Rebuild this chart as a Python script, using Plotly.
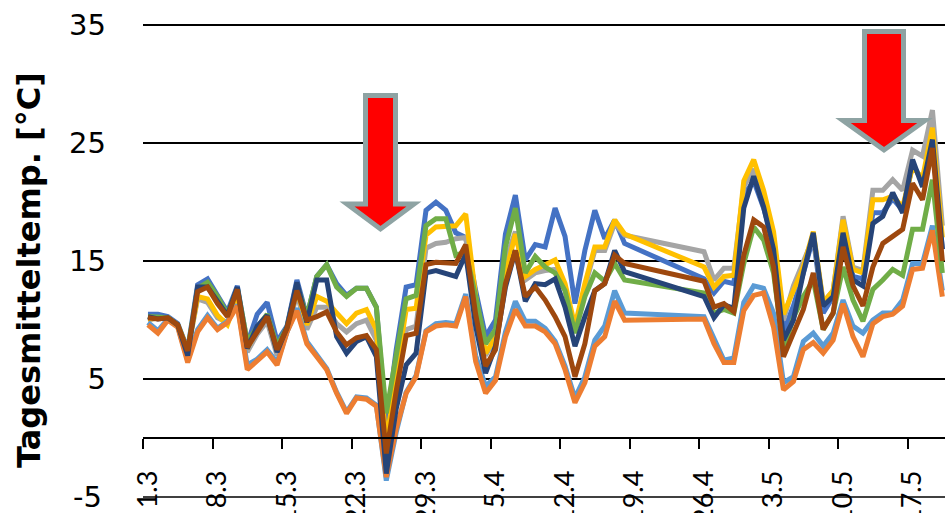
import plotly.graph_objects as go

# Day index 0 = 1.3 (1 March) ... 80 = 20.5
days = list(range(81))
tick_labels = ["1.3", "8.3", "15.3", "22.3", "29.3", "5.4", "12.4", "19.4", "26.4", "3.5", "10.5", "17.5"]
tick_days = [0, 7, 14, 21, 28, 35, 42, 49, 56, 63, 70, 77]
y_ticks = [-5, 5, 15, 25, 35]

G = [None] * 7  # missing days 49..55

blue = [10.5, 10.5, 10.3, 9.7, 7.5, 13.0, 13.5, 12.0, 10.7, 12.9, 8.0, 10.5, 11.5, 8.2, 9.5, 13.4,
        10.3, 13.7, 14.7, 13.1, 12.1, 12.7, 12.7, 11.1, 1.0, 7.5, 12.8, 13.0, 19.3, 20.0, 19.3, 17.4,
        17.0, 12.5, 8.6, 10.0, 17.3, 20.6, 15.1, 16.4, 16.2, 19.5, 17.1, 11.4, 15.9, 19.3, 16.9, 18.5,
        16.5] + G + [13.5, 12.3, 13.3, 13.1, 20.6, 21.8, 19.5, 16.5, 9.0, 11.2, 14.0, 17.0, 10.6, 12.0,
        17.8, 13.7, 13.5, 19.1, 19.1, 20.3, 19.3, 23.2, 21.8, 25.0, 16.0]
orange = [9.6, 8.9, 10.0, 9.4, 6.4, 9.0, 10.2, 9.2, 9.8, 11.2, 5.8, 6.5, 7.3, 6.2, 9.0, 10.8,
          8.0, 6.9, 5.8, 3.8, 2.1, 3.4, 3.3, 2.7, -3.3, 0.8, 3.8, 5.2, 9.0, 9.5, 9.6, 9.5,
          12.0, 6.5, 3.8, 4.9, 8.6, 10.9, 9.5, 9.5, 9.0, 8.0, 5.8, 3.0, 4.7, 7.8, 8.6, 11.6,
          10.0] + G + [10.1, 8.0, 6.4, 6.4, 10.8, 12.1, 12.3, 9.4, 4.1, 4.8, 7.5, 8.1, 7.2, 8.3,
          11.4, 8.6, 6.9, 9.7, 10.3, 10.5, 11.2, 14.3, 14.4, 17.6, 12.0]
gray = [10.0, 10.2, 10.2, 9.6, 7.4, 11.8, 11.5, 10.2, 9.8, 12.0, 7.3, 8.8, 9.9, 7.0, 9.0, 12.2,
        9.2, 11.1, 11.1, 9.7, 9.0, 9.7, 10.0, 8.3, -1.0, 4.5, 9.2, 9.5, 16.1, 16.5, 16.6, 16.9,
        17.0, 11.5, 7.0, 8.5, 15.0, 17.5, 13.4, 14.0, 14.2, 14.3, 12.6, 9.2, 12.8, 15.9, 15.9, 18.2,
        17.2] + G + [15.8, 13.4, 14.4, 14.4, 21.3, 22.8, 20.5, 17.0, 10.0, 12.9, 15.0, 17.0, 11.5, 12.5,
        18.8, 14.5, 14.2, 21.0, 21.0, 21.9, 21.0, 24.4, 23.9, 27.8, 18.0]
yellow = [10.1, 10.2, 10.2, 9.6, 7.4, 12.0, 11.8, 10.4, 9.6, 12.0, 7.6, 9.2, 10.4, 7.4, 9.2, 12.6,
          9.6, 12.0, 11.6, 10.6, 9.7, 10.6, 10.9, 9.2, -0.5, 5.5, 10.9, 11.0, 17.2, 17.9, 17.9, 18.0,
          19.0, 12.0, 7.2, 8.5, 13.9, 17.3, 13.7, 14.3, 14.7, 15.1, 13.1, 9.5, 13.1, 16.2, 16.2, 18.5,
          17.3] + G + [14.5, 12.8, 13.7, 13.8, 21.8, 23.6, 21.0, 17.5, 10.5, 12.5, 14.5, 17.5, 11.5, 12.5,
          18.5, 14.3, 14.0, 20.2, 20.2, 20.5, 19.6, 23.0, 22.0, 26.3, 17.0]
lightblue = [9.8, 9.1, 10.1, 9.5, 6.6, 9.2, 10.4, 9.3, 9.9, 11.3, 6.2, 6.7, 7.5, 6.4, 9.0, 11.0,
             8.2, 7.0, 5.9, 3.9, 2.2, 3.5, 3.4, 2.8, -3.6, 0.5, 3.9, 5.3, 9.1, 9.7, 9.8, 9.7,
             12.2, 7.0, 4.4, 5.2, 9.0, 11.6, 9.9, 9.9, 9.3, 8.2, 6.1, 3.4, 5.2, 8.3, 9.5, 12.5,
             10.6] + G + [10.3, 8.5, 6.6, 6.8, 11.5, 12.9, 12.7, 10.6, 4.7, 5.2, 8.2, 8.9, 7.8, 8.9,
             11.7, 9.5, 8.9, 10.0, 10.6, 10.6, 11.7, 14.8, 14.8, 18.0, 12.5]
green = [10.3, 10.2, 10.2, 9.6, 7.4, 12.7, 13.2, 12.0, 10.5, 12.7, 8.2, 9.4, 10.5, 7.8, 9.4, 13.0,
         10.3, 13.7, 14.7, 12.8, 12.0, 12.7, 12.7, 11.1, 2.1, 7.0, 11.8, 12.1, 18.0, 18.6, 18.6, 15.5,
         15.8, 12.0, 8.0, 9.2, 16.2, 19.5, 14.0, 15.4, 14.5, 14.0, 12.5, 8.9, 12.0, 14.0, 13.3, 14.8,
         13.4] + G + [12.3, 10.6, 10.9, 10.6, 14.8, 17.9, 16.8, 14.0, 7.5, 10.2, 12.0, 13.4, 9.2, 10.6,
         14.5, 11.7, 9.9, 12.6, 13.4, 14.3, 13.8, 17.7, 17.7, 21.9, 14.0]
darkblue = [10.3, 10.1, 10.2, 9.6, 7.0, 12.8, 12.8, 11.6, 10.4, 12.8, 7.6, 9.5, 10.4, 7.3, 9.4, 13.2,
            9.8, 13.4, 13.4, 8.6, 7.2, 8.2, 8.6, 6.9, -3.0, 2.5, 6.2, 7.2, 14.0, 14.2, 14.0, 13.7,
            15.6, 9.5, 5.5, 7.8, 12.8, 15.9, 11.6, 13.1, 13.0, 13.5, 11.1, 7.8, 10.3, 12.5, 13.1, 15.9,
            14.1] + G + [12.0, 10.2, 11.3, 11.0, 19.5, 22.2, 19.6, 16.0, 8.3, 10.0, 14.0, 17.4, 11.2, 12.0,
            17.4, 13.4, 12.9, 18.2, 18.8, 20.8, 19.1, 23.6, 21.3, 25.3, 16.0]
brown = [10.2, 10.1, 10.2, 9.6, 7.4, 12.4, 12.8, 11.4, 10.3, 12.6, 7.7, 9.1, 10.3, 7.5, 9.3, 12.5,
         10.0, 10.3, 10.7, 9.0, 7.9, 8.5, 8.7, 7.5, -1.3, 4.0, 8.7, 8.9, 14.7, 14.9, 14.8, 14.8,
         16.4, 10.5, 6.1, 7.5, 13.1, 15.9, 12.0, 12.8, 11.7, 10.3, 8.6, 5.2, 8.0, 12.5, 13.1, 15.5,
         14.8] + G + [13.3, 11.1, 11.4, 10.7, 15.5, 18.5, 17.9, 14.5, 6.9, 8.9, 10.9, 14.0, 9.2, 10.6,
         16.2, 12.9, 11.2, 14.5, 16.5, 17.1, 17.7, 21.6, 20.2, 24.6, 15.0]

series = [
    ("S1", blue, "#4472C4"),
    ("S3", gray, "#A5A5A5"),
    ("S4", yellow, "#FFC000"),
    ("S5", lightblue, "#5B9BD5"),
    ("S2", orange, "#ED7D31"),
    ("S6", green, "#70AD47"),
    ("S7", darkblue, "#264478"),
    ("S8", brown, "#9E480E"),
]

fig = go.Figure()
for name, vals, col in series:
    fig.add_trace(go.Scatter(x=days, y=vals, mode="lines", name=name, connectgaps=True,
                             line=dict(color=col, width=5), showlegend=False))

W, H = 945, 513
ML, MR, MT, MB = 143, 0, 24, 10
PW, PH = W - ML - MR, H - MT - MB
Y_RANGE = [-5.5, 35.1]
TICK_FONT = dict(family="DejaVu Sans", size=29, color="black")

def px(xp):
    return (xp - ML) / PW

def py(yp):
    return (H - MB - yp) / PH

def arrow(cx, half_shaft, top, wing_y, half_wing, tip):
    pts = [(cx - half_shaft, top), (cx + half_shaft, top), (cx + half_shaft, wing_y),
           (cx + half_wing, wing_y), (cx, tip), (cx - half_wing, wing_y), (cx - half_shaft, wing_y)]
    d = "M " + " L ".join(f"{px(a):.5f},{py(b):.5f}" for a, b in pts) + " Z"
    return dict(type="path", xref="paper", yref="paper", path=d, fillcolor="#FF0000",
                line=dict(color="#8EA3A3", width=5), layer="above")

shapes = [
    # bottom gridline (lowest y tick), drawn explicitly
    dict(type="line", xref="paper", yref="y", x0=0, x1=1, y0=y_ticks[0], y1=y_ticks[0],
         line=dict(color="black", width=1.5), layer="below"),
    arrow(380.5, 15, 95.5, 204, 33.5, 229),
    arrow(884, 19.5, 31.5, 120.5, 41, 150),
]

fig.update_layout(
    width=W, height=H,
    margin=dict(l=ML, r=MR, t=MT, b=MB, autoexpand=False),
    paper_bgcolor="white", plot_bgcolor="white",
    shapes=shapes,
    xaxis=dict(
        range=[-0.5, -0.5 + PW / 9.93],
        tickvals=[d - 0.5 for d in tick_days], ticktext=tick_labels,
        tickangle=-90, ticks="outside", ticklen=10, tickwidth=1.5, tickcolor="black",
        showline=True, linecolor="black", linewidth=1.5, showgrid=False, zeroline=False,
        anchor="free", position=(0 - Y_RANGE[0]) / (Y_RANGE[1] - Y_RANGE[0]),
        ticklabelstandoff=11, ticklabelshift=5,
        tickfont=dict(family="Lato", size=27, color="black"), automargin=False,
    ),
    yaxis=dict(
        range=Y_RANGE, tickvals=y_ticks[1:], showgrid=True, gridcolor="black", gridwidth=1.5,
        zeroline=False, showline=False, ticks="", ticklabelstandoff=36,
        tickfont=TICK_FONT, automargin=False,
    ),
    annotations=[
        dict(text="<b>Tagesmitteltemp. [°C]</b>", xref="paper", yref="paper",
             x=px(29), y=py(270), xanchor="center", yanchor="middle", textangle=-90,
             showarrow=False, font=dict(family="DejaVu Sans", size=32, color="black")),
        dict(text=str(y_ticks[0]), xref="paper", yref="y",
             x=px(104), y=y_ticks[0], xanchor="right", yanchor="middle",
             showarrow=False, font=TICK_FONT),
    ],
)

fig.write_html("out.html", config={"displayModeBar": False},
               post_script="document.body.style.margin='0';document.body.style.overflow='hidden';")
